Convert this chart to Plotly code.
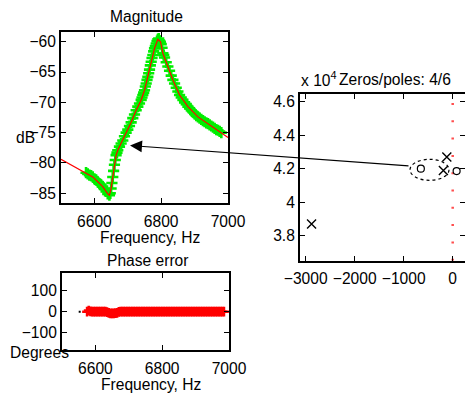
import plotly.graph_objects as go

# ---------------- data ----------------
# Magnitude: model curve (red line)
model_freq = [6500, 6530, 6560, 6575, 6595, 6610, 6625, 6640, 6645, 6650, 6660, 6665, 6670,
              6680, 6695, 6710, 6725, 6740, 6750, 6760, 6770, 6780, 6790, 6798, 6805, 6820,
              6835, 6855, 6880, 6910, 6940, 6970, 7000]
model_db = [-79.4, -80.3, -81.2, -81.6, -82.3, -83.1, -83.9, -85.1, -85.3, -84.2, -80.3, -78.7, -77.9,
            -76.8, -75.0, -73.3, -71.3, -69.6, -68.0, -65.8, -63.3, -61.1, -59.6, -60.0, -61.9, -64.1,
            -66.3, -68.8, -70.7, -72.4, -73.5, -74.6, -75.8]

# Magnitude: measured points (green +)
meas_freq = [6575, 6580, 6585, 6590, 6595, 6600, 6605, 6610, 6615, 6620, 6625, 6630, 6635, 6640,
             6645, 6647.5, 6650, 6652.5, 6655, 6657.5, 6660, 6662.5, 6665, 6667.5, 6670,
             6675, 6680, 6685, 6690, 6695, 6700, 6705, 6710, 6715, 6720, 6725, 6730, 6735,
             6740, 6742.5, 6745, 6747.5, 6750, 6752.5, 6755, 6757.5, 6760, 6762.5, 6765, 6767.5,
             6770, 6772.5, 6775, 6777.5, 6780, 6782.5, 6785, 6787.5, 6790, 6792.5, 6795, 6797.5,
             6800, 6802.5, 6805, 6807.5, 6810, 6815, 6820, 6825, 6830, 6835, 6840, 6845, 6850,
             6855, 6860, 6865, 6870, 6875, 6880, 6885, 6890, 6895, 6900, 6905, 6910, 6915, 6920,
             6925, 6930, 6935, 6940, 6945, 6950, 6955, 6960, 6965, 6970, 6975, 6980]
meas_db = [-81.6, -81.8, -82.0, -82.1, -82.3, -82.6, -82.8, -83.1, -83.4, -83.6, -83.9, -84.3, -84.7, -85.1,
           -85.3, -85.0, -84.2, -83.3, -82.3, -81.3, -80.3, -79.5, -78.7, -78.3, -77.9,
           -77.3, -76.8, -76.3, -75.6, -75.0, -74.5, -73.9, -73.3, -72.6, -72.0, -71.3, -70.7, -70.2,
           -69.6, -69.2, -68.8, -68.4, -68.0, -67.4, -66.9, -66.3, -65.8, -65.2, -64.6, -63.9,
           -63.3, -62.7, -62.2, -61.6, -61.1, -60.7, -60.3, -59.9, -59.6, -59.5, -59.8, -60.0,
           -60.4, -61.0, -61.9, -62.2, -62.6, -63.4, -64.1, -64.8, -65.6, -66.3, -66.9, -67.6, -68.2,
           -68.8, -69.2, -69.6, -70.0, -70.3, -70.7, -71.0, -71.3, -71.6, -71.9, -72.2, -72.4, -72.6, -72.8,
           -73.0, -73.2, -73.4, -73.5, -73.7, -73.9, -74.1, -74.3, -74.5, -74.6, -74.8, -75.0]

# Phase error (degrees)
phase_freq = [6575, 6580, 6585, 6590, 6595, 6600, 6605, 6610, 6615, 6620, 6625, 6630, 6635, 6640,
              6645, 6650, 6655, 6660, 6665, 6670, 6675, 6680, 6685, 6690, 6695, 6700, 6705, 6710,
              6715, 6720, 6725, 6730, 6735, 6740, 6745, 6750, 6755, 6760, 6765, 6770, 6775, 6780,
              6785, 6790, 6795, 6800, 6805, 6810, 6815, 6820, 6825, 6830, 6835, 6840, 6845, 6850,
              6855, 6860, 6865, 6870, 6875, 6880, 6885, 6890, 6895, 6900, 6905, 6910, 6915, 6920,
              6925, 6930, 6935, 6940, 6945, 6950, 6955, 6960, 6965, 6970, 6975, 6980, 6985]
phase_err = [0, 5, 1, 0, 0, 0, 0, 0, 0, 0, 0, 0, -2, -6,
             -8, -8, -8, -7, -6, -1, 0, 0, 0, 0, 0, 0, 0, 0,
             0, 0, 0, 0, 0, 0, 0, 0, 0, 0, 0, 0, 0, 0,
             0, 0, 0, 0, 0, 0, 0, 0, 0, 0, 0, 0, 0, 0,
             0, 0, 0, 0, 0, 0, 0, 0, 0, 0, 0, 0, 0, 0,
             0, 0, 0, 0, 0, 0, 0, 0, 0, 0, 0, 0, 0]
phase_extra_freq = [6553]
phase_extra_val = [0]

# Zeros / poles (upper half-plane)
pole_re = [-2880, -120, -190]
pole_im = [38700, 42700, 41900]
zero_re = [-650, 80]
zero_im = [42000, 41860]
imag_axis_re = [0, 0]
imag_axis_im = [36510, 46460]

mag_yticks = [-85, -80, -75, -70, -65, -60]
freq_ticks = [6600, 6800, 7000]
phase_yticks = [-100, 0, 100]
zp_xticks = [-3000, -2000, -1000, 0]
zp_yticks = [38000, 40000, 42000, 44000, 46000]
zp_yticklabels = ["3.8", "4", "4.2", "4.4", "4.6"]

# ---------------- layout helpers ----------------
W, H = 465, 394
FONT = "Liberation Sans, Arial, Helvetica, sans-serif"
FS = 15.6


def px(x):
    return x / W


def py(y):
    return 1 - y / H


fig = go.Figure()

fig.add_trace(go.Scatter(x=meas_freq, y=meas_db, mode="markers",
                         marker=dict(symbol="cross-thin", size=8,
                                     line=dict(color="#00ee00", width=2.6)),
                         xaxis="x", yaxis="y", showlegend=False))
fig.add_trace(go.Scatter(x=model_freq, y=model_db, mode="lines",
                         line=dict(color="#ff0000", width=1.2), xaxis="x", yaxis="y",
                         showlegend=False))

fig.add_trace(go.Scatter(x=phase_freq, y=phase_err, mode="markers",
                         marker=dict(symbol="cross-thin", size=7,
                                     line=dict(color="#ff0000", width=2.5)),
                         xaxis="x2", yaxis="y2", showlegend=False))
fig.add_trace(go.Scatter(x=phase_extra_freq, y=phase_extra_val, mode="markers",
                         marker=dict(symbol="square", size=2, color="black"),
                         xaxis="x2", yaxis="y2", showlegend=False))

fig.add_trace(go.Scatter(x=imag_axis_re, y=imag_axis_im, mode="lines",
                         line=dict(color="#ff4d4d", width=2.5, dash="2px,15.3px"),
                         xaxis="x3", yaxis="y3", showlegend=False))
fig.add_trace(go.Scatter(x=pole_re, y=pole_im, mode="markers",
                         marker=dict(symbol="x-thin", size=9,
                                     line=dict(color="black", width=1.4)),
                         xaxis="x3", yaxis="y3", showlegend=False))
fig.add_trace(go.Scatter(x=zero_re, y=zero_im, mode="markers",
                         marker=dict(symbol="circle-open", size=7,
                                     line=dict(color="black", width=1.2), color="black"),
                         xaxis="x3", yaxis="y3", showlegend=False))

axis_common = dict(showline=True, linecolor="black", linewidth=2, mirror="ticks",
                   ticks="inside", ticklen=5, tickwidth=1, tickcolor="black",
                   showgrid=False, zeroline=False, automargin=False,
                   tickfont=dict(family=FONT, size=FS, color="black"))

fig.update_layout(
    template="none",
    width=W, height=H, autosize=False,
    margin=dict(l=0, r=0, t=0, b=0, pad=0, autoexpand=False),
    paper_bgcolor="white", plot_bgcolor="white",
    font=dict(family=FONT, size=FS, color="black"),
    showlegend=False,
    xaxis=dict(domain=[px(61), px(228)], range=[6500, 7000], tickvals=freq_ticks,
               anchor="y", ticklabelstandoff=3, **axis_common),
    yaxis=dict(domain=[py(203), py(32)], range=[-86.6, -58.4], tickvals=mag_yticks,
               anchor="x", ticklabelstandoff=0, **axis_common),
    xaxis2=dict(domain=[px(62), px(229)], range=[6500, 7000], tickvals=freq_ticks,
                anchor="y2", ticklabelstandoff=3, **axis_common),
    yaxis2=dict(domain=[py(350), py(273.3)], range=[-180, 180], tickvals=phase_yticks,
                anchor="x2", ticklabelstandoff=0, **axis_common),
    xaxis3=dict(domain=[px(300), 1.0], range=[-3116, 251], tickvals=zp_xticks,
                anchor="y3", ticklabelstandoff=3, **axis_common),
    yaxis3=dict(domain=[py(260.7), py(94)], range=[36510, 46460], tickvals=zp_yticks,
                ticktext=zp_yticklabels, anchor="x3", ticklabelstandoff=0, **axis_common),
)

# dashed ellipse around the zero/pole group
fig.add_shape(type="circle", xref="x3", yref="y3", x0=-871, x1=-75, y0=41307, y1=42561,
              line=dict(color="black", width=1.2, dash="3px,3px"))

# arrow from ellipse to the magnitude curve
fig.add_annotation(xref="paper", yref="paper", x=px(130), y=py(145.5), ax=280, ay=20.5,
                   axref="pixel", ayref="pixel", text="", showarrow=True,
                   arrowhead=2, arrowsize=2.0, arrowwidth=1.2, arrowcolor="black", standoff=0)


def label(text, x, y, xanchor="center"):
    fig.add_annotation(xref="paper", yref="paper", x=px(x), y=py(y), text=text,
                       showarrow=False, xanchor=xanchor, yanchor="middle",
                       font=dict(family=FONT, size=FS, color="black"))


label("Magnitude", 146.5, 17)
label("Frequency, Hz", 150, 237)
label("dB", 25, 137.5)
label("Phase error", 147, 260)
label("Degrees", 39, 352)
label("Frequency, Hz", 151, 384)
label("x 10<sup>4</sup>", 299, 79, xanchor="left")
label("Zeros/poles: 4/6", 394.5, 80)

fig.write_html("out.html", config={"displayModeBar": False},
               post_script="document.body.style.margin='0px';")
